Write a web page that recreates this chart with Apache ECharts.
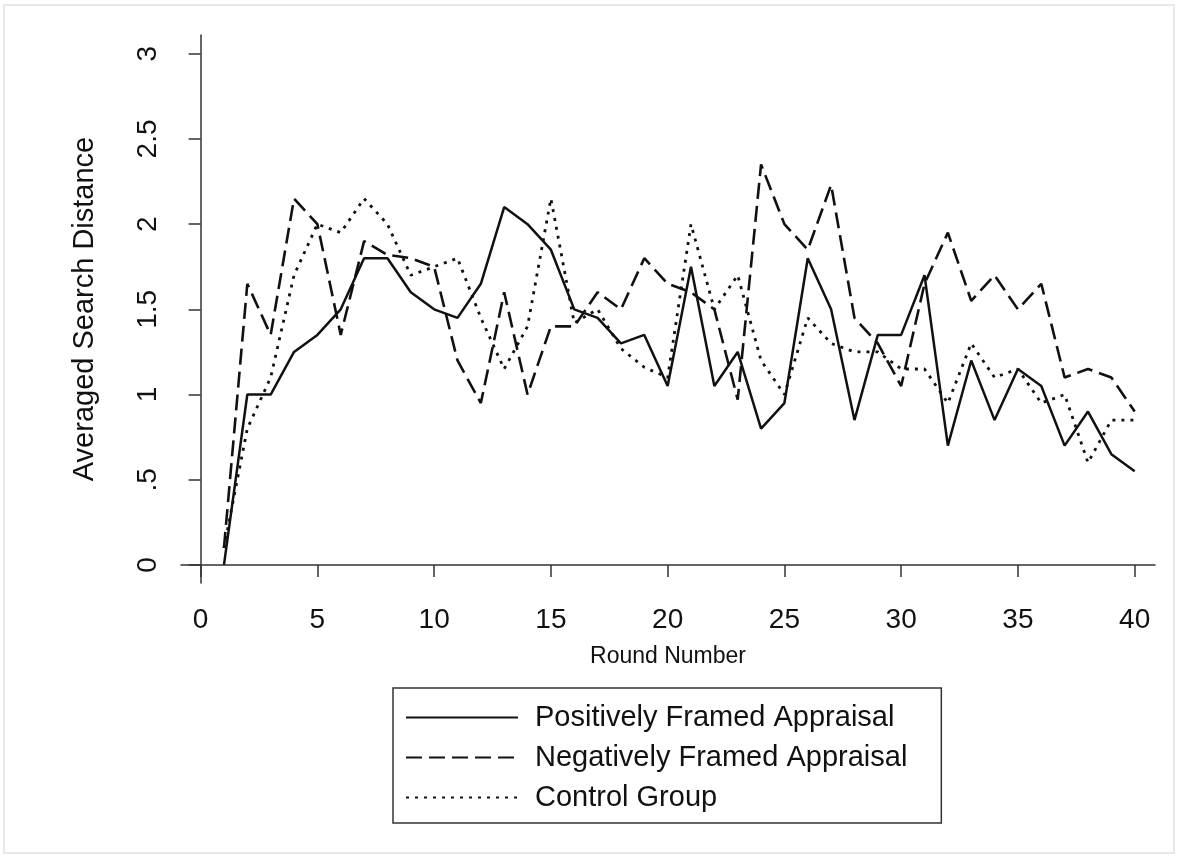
<!DOCTYPE html>
<html>
<head>
<meta charset="utf-8">
<title>Averaged Search Distance by Round</title>
<script src="https://cdn.jsdelivr.net/npm/echarts@6/dist/echarts.min.js"></script>
<style>
  html, body { margin: 0; padding: 0; background: #fff; }
  #frame {
    position: absolute; left: 3px; top: 4px; width: 1172px; height: 850px;
    border: 2px solid #e8e8e8; box-sizing: border-box;
  }
  #chart { position: absolute; left: 0; top: 0; width: 1182px; height: 861px; }
</style>
</head>
<body>
<div id="frame"></div>
<div id="chart"></div>
<script>
// rounds 1..40
const rounds = Array.from({ length: 40 }, (_, i) => i + 1);

const positive = [
  0, 1.0, 1.0, 1.25, 1.35, 1.5, 1.8, 1.8, 1.6, 1.5,
  1.45, 1.65, 2.1, 2.0, 1.85, 1.5, 1.45, 1.3, 1.35, 1.05,
  1.75, 1.05, 1.25, 0.8, 0.95, 1.8, 1.5, 0.85, 1.35, 1.35,
  1.7, 0.7, 1.2, 0.85, 1.15, 1.05, 0.7, 0.9, 0.65, 0.55
];
const negative = [
  0.1, 1.65, 1.35, 2.15, 2.0, 1.35, 1.9, 1.82, 1.8, 1.75,
  1.2, 0.95, 1.6, 1.0, 1.4, 1.4, 1.6, 1.5, 1.8, 1.65,
  1.6, 1.5, 0.97, 2.35, 2.0, 1.85, 2.23, 1.45, 1.3, 1.05,
  1.65, 1.95, 1.55, 1.7, 1.5, 1.65, 1.1, 1.15, 1.1, 0.9
];
const control = [
  0.1, 0.8, 1.1, 1.7, 2.0, 1.95, 2.15, 2.0, 1.7, 1.75,
  1.8, 1.45, 1.15, 1.4, 2.15, 1.42, 1.5, 1.27, 1.16, 1.1,
  2.0, 1.5, 1.7, 1.2, 1.0, 1.45, 1.3, 1.25, 1.25, 1.15,
  1.15, 0.95, 1.3, 1.1, 1.15, 0.95, 1.0, 0.6, 0.85, 0.85
];

const seriesNames = ['Positively Framed Appraisal', 'Negatively Framed Appraisal', 'Control Group'];
const xTicks = [0, 5, 10, 15, 20, 25, 30, 35, 40];
const yTicks = [0, 0.5, 1, 1.5, 2, 2.5, 3];

const ink = '#111';
const font = 'Liberation Sans, Arial, sans-serif';

function pairs(vals) {
  return rounds.map((r, i) => [r, vals[i]]);
}

const chart = echarts.init(document.getElementById('chart'), null, { renderer: 'canvas' });

chart.setOption({
  animation: false,
  backgroundColor: 'transparent',
  grid: { left: 181, right: 27, top: 35, bottom: 278, containLabel: false },
  xAxis: {
    type: 'value',
    min: -0.84,
    max: 40.87,
    name: 'Round Number',
    nameLocation: 'middle',
    nameGap: 62,
    nameTextStyle: { fontFamily: font, fontSize: 23, color: ink },
    splitLine: { show: false },
    axisLine: { lineStyle: { color: '#333', width: 1.5 } },
    axisTick: { customValues: xTicks, length: 12, lineStyle: { color: '#333', width: 1.5 } },
    axisLabel: {
      customValues: xTicks,
      margin: 23,
      fontFamily: font, fontSize: 28, color: ink
    }
  },
  yAxis: {
    type: 'value',
    min: -0.106,
    max: 3.11,
    name: 'Averaged Search Distance',
    nameLocation: 'middle',
    nameGap: 82,
    nameRotate: 90,
    nameTextStyle: { fontFamily: font, fontSize: 29, color: ink },
    splitLine: { show: false },
    axisLine: { show: true, lineStyle: { color: '#333', width: 1.5 } },
    axisTick: { show: true, customValues: yTicks, length: 12, lineStyle: { color: '#333', width: 1.5 } },
    axisLabel: {
      customValues: yTicks,
      rotate: 90,
      margin: 19,
      fontFamily: font, fontSize: 28, color: ink,
      formatter: v => (v === 0.5 ? '.5' : String(v))
    }
  },
  legend: {
    orient: 'vertical',
    left: 393,
    top: 688,
    data: seriesNames,
    itemWidth: 112,
    itemHeight: 30,
    itemGap: 11,
    padding: [15, 34, 11, 12],
    borderColor: '#333',
    borderWidth: 1.5,
    borderRadius: 0,
    itemStyle: { opacity: 0 },
    textStyle: { fontFamily: font, fontSize: 29, color: ink, padding: [0, 0, 0, 12] }
  },
  series: [
    {
      name: seriesNames[0], type: 'line', data: pairs(positive),
      symbol: 'none', showSymbol: false,
      lineStyle: { color: ink, width: 2.5, type: 'solid' },
      itemStyle: { color: ink }
    },
    {
      name: seriesNames[1], type: 'line', data: pairs(negative),
      symbol: 'none', showSymbol: false,
      lineStyle: { color: ink, width: 2.6, type: [16, 7] },
      itemStyle: { color: ink }
    },
    {
      name: seriesNames[2], type: 'line', data: pairs(control),
      symbol: 'none', showSymbol: false,
      lineStyle: { color: ink, width: 2.8, type: [3, 6] },
      itemStyle: { color: ink }
    }
  ]
});
</script>
</body>
</html>
